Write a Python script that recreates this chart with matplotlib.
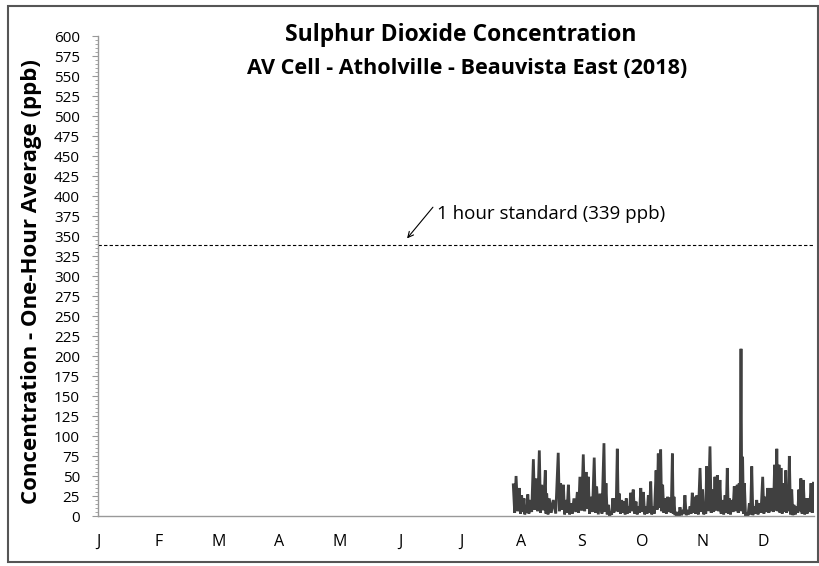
import numpy as np
import matplotlib
matplotlib.use("Agg")
import matplotlib.pyplot as plt
from matplotlib.ticker import MultipleLocator
from matplotlib.patches import Rectangle

plt.rcParams['font.family'] = ['Open Sans', 'DejaVu Sans']

# hourly SO2 peaks (day of year, ppb), monitor online from late July
peak_day = [
    208.8, 210.2, 211.8, 213.0, 214.2, 215.0, 216.1, 217.2, 218.9, 220.2,
    221.9, 223.1, 224.9, 225.6, 226.9, 228.9, 231.4, 232.6, 234.0, 235.2,
    236.5, 237.7, 239.3, 241.0, 242.3, 244.0, 245.4, 246.5, 247.7, 249.5,
    250.7, 252.4, 254.4, 255.4, 256.6, 257.8, 258.8, 259.9, 261.1, 262.1,
    263.3, 264.5, 265.6, 266.6, 267.8, 269.1, 270.5, 271.7, 272.9, 274.2,
    275.5, 276.7, 277.9, 278.9, 280.6, 281.7, 282.9, 283.9, 285.1, 286.4,
    287.6, 288.8, 289.6, 290.6, 291.8, 292.6, 294.0, 295.1, 296.3, 297.7,
    298.8, 299.8, 301.0, 302.7, 304.0, 305.2, 306.0, 307.7, 308.9, 310.2,
    311.4, 312.7, 313.9, 315.3, 316.4, 317.4, 318.6, 319.9, 321.4, 322.4,
    323.3, 324.1, 325.0, 326.2, 327.5, 328.7, 329.8, 331.2, 332.5, 334.2,
    335.4, 336.7, 337.9, 339.0, 340.2, 341.3, 342.4, 343.4, 344.6, 345.8,
    346.6, 347.6, 348.8, 349.9, 351.3, 352.4, 353.4, 354.6, 356.0, 357.1,
    358.5, 359.7,
]
peak_ppb = [
    39, 50, 35, 26, 22, 12, 27, 20, 71, 47,
    82, 39, 57, 28, 22, 20, 79, 41, 39, 20,
    39, 16, 22, 30, 49, 77, 55, 49, 24, 73,
    37, 28, 91, 41, 14, 3, 22, 22, 84, 28,
    20, 18, 22, 12, 29, 33, 18, 12, 35, 30,
    12, 26, 43, 12, 57, 78, 83, 39, 22, 24,
    23, 78, 24, 5, 3, 11, 5, 26, 5, 12,
    29, 24, 26, 60, 33, 12, 62, 87, 33, 49,
    51, 45, 20, 26, 60, 22, 20, 37, 39, 41,
    209, 74, 41, 2, 16, 62, 12, 20, 16, 49,
    24, 35, 35, 35, 64, 84, 64, 60, 41, 57,
    28, 75, 33, 14, 12, 33, 47, 45, 22, 22,
    41, 41,
]
# overnight lows between consecutive peaks
low_ppb = [
    4, 6, 3, 5, 2, 4, 3, 5, 8, 6,
    4, 7, 3, 2, 4, 3, 6, 8, 2, 4,
    2, 3, 5, 4, 7, 6, 9, 3, 5, 4,
    2, 3, 5, 2, 0, 3, 4, 6, 5, 3,
    4, 2, 3, 4, 6, 3, 2, 4, 5, 2,
    3, 4, 2, 3, 8, 10, 6, 4, 3, 5,
    4, 3, 1, 0, 2, 1, 3, 1, 2, 3,
    4, 3, 2, 5, 2, 3, 6, 4, 5, 7,
    6, 3, 2, 4, 3, 2, 5, 6, 4, 8,
    6, 3, 0, 1, 2, 1, 3, 2, 4, 3,
    5, 4, 6, 5, 7, 6, 4, 3, 5, 4,
    6, 2, 1, 2, 4, 6, 3, 2, 3, 5,
    4,
]
standard_ppb = 339
month_labels = ['J', 'F', 'M', 'A', 'M', 'J', 'J', 'A', 'S', 'O', 'N', 'D']

# interleave peaks with the lows between them
x, y = [], []
for i in range(len(peak_day)):
    x.append(peak_day[i])
    y.append(peak_ppb[i])
    if i < len(low_ppb):
        x.append((peak_day[i] + peak_day[i + 1]) / 2)
        y.append(low_ppb[i])

fig = plt.figure(figsize=(8.2, 5.66), dpi=100)
ax = fig.add_axes([98 / 820, 1 - 516 / 566, 716 / 820, 480 / 566])

ax.plot(x, y, color='#404040', lw=2.0, solid_joinstyle='miter')
ax.axhline(standard_ppb, color='black', lw=0.8, ls=(0, (3, 2)))

ax.set_xlim(0, 360)
ax.set_ylim(0, 600)
ax.yaxis.set_major_locator(MultipleLocator(25))
ax.yaxis.set_minor_locator(MultipleLocator(5))
ax.set_xticks([i * 730 / 24 for i in range(12)])
ax.set_xticklabels(month_labels)
ax.tick_params(axis='x', length=0, pad=13, labelsize=11.5)
ax.tick_params(axis='y', which='major', length=4, color='#999999', labelsize=11, pad=9)
ax.tick_params(axis='y', which='minor', length=2, color='#999999')

for s in ['top', 'right']:
    ax.spines[s].set_visible(False)
for s in ['left', 'bottom']:
    ax.spines[s].set_color('#999999')
    ax.spines[s].set_linewidth(1)

fig.text(32 / 820, 1 - 282 / 566, 'Concentration - One-Hour Average (ppb)',
         rotation=90, ha='center', va='center', fontsize=16, fontweight='bold')

# arrow pointing at the standard line, label to its right
ax.annotate('', xy=(155.4, 347), xytext=(168.4, 386),
            arrowprops=dict(arrowstyle='->', color='black', lw=0.8,
                            shrinkA=0, shrinkB=0))
ax.text(170.2, 377, '1 hour standard (339 ppb)', fontsize=13.5, va='center')

fig.text(461 / 820, 1 - 35 / 566, 'Sulphur Dioxide Concentration',
         ha='center', va='center', fontsize=16.5, fontweight='bold')
fig.text(467 / 820, 1 - 68 / 566, 'AV Cell - Atholville - Beauvista East (2018)',
         ha='center', va='center', fontsize=15.6, fontweight='bold')

fig.patches.append(Rectangle((8 / 820, 1 - 562 / 566), 810 / 820, 556 / 566,
                             transform=fig.transFigure, fill=False,
                             edgecolor='#555555', lw=1.5))

fig.savefig('out.png', dpi=100)
